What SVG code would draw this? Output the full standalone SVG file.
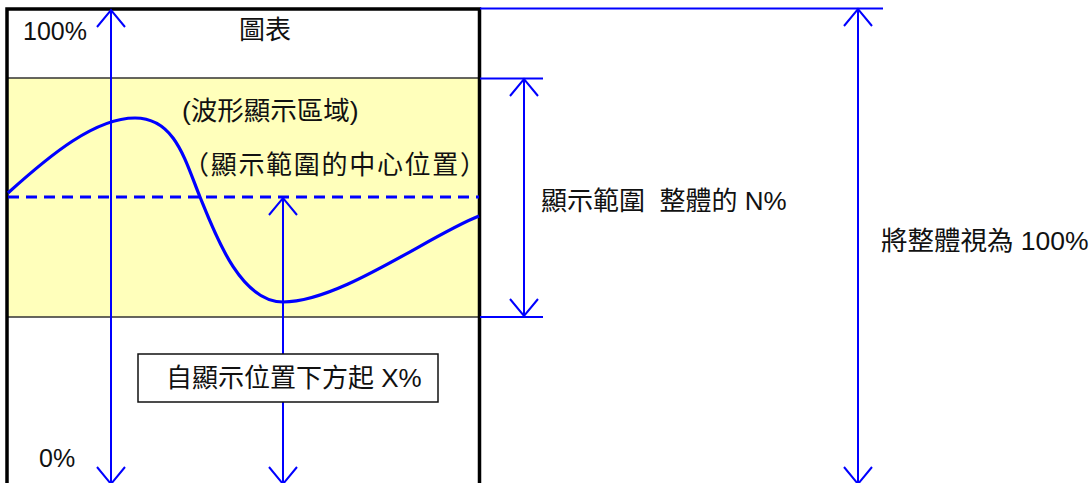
<svg xmlns="http://www.w3.org/2000/svg" width="1092" height="483" viewBox="0 0 1092 483">
<style>
.t{font-family:"Liberation Sans","Noto Sans CJK TC",sans-serif;font-size:25px;fill:#111;white-space:pre}
.big{font-size:26px}
.dim{stroke:#0000FF;stroke-width:2;fill:none}
.thick{stroke:#0000FF;stroke-width:3.2;fill:none}
</style>
<defs>
<marker id="ah" viewBox="-19 -16 22 32" refX="0" refY="0" markerWidth="22" markerHeight="32" markerUnits="userSpaceOnUse" orient="auto-start-reverse">
<path d="M-17,-14 L0,0 L-17,14" fill="none" stroke="#0000FF" stroke-width="2"/>
</marker>
</defs>
<rect width="1092" height="483" fill="#fff"/>
<g id="chart">
<rect x="7" y="78" width="472" height="239" fill="#FFFFBB" stroke="#333" stroke-width="1.5"/>
<path d="M7,490 L7,9 L479.5,9 L479.5,490" fill="none" stroke="#000" stroke-width="3.5"/>
<text class="t" x="23" y="40">100%</text>
<text class="t big" x="239" y="39">圖表</text>
<text class="t" x="39" y="467">0%</text>
</g>
<g id="wave-area">
<text class="t" x="182" y="120" style="font-size:26.5px">(波形顯示區域)</text>
<text class="t big" x="183" y="174" textLength="303" lengthAdjust="spacing">（顯示範圍的中心位置）</text>
<line class="thick" x1="8" y1="197" x2="479" y2="197" stroke-dasharray="11 7"/>
<path class="thick" d="M8,193 C50,155 95,118 135,118 C175,118 185,160 200,197 C215,234 240,302 283,302 C340,302 430,235 479,216"/>
</g>
<g id="connectors">
<line class="dim" x1="111" y1="10" x2="111" y2="484" marker-start="url(#ah)" marker-end="url(#ah)"/>
<line class="dim" x1="283" y1="198" x2="283" y2="484" marker-start="url(#ah)" marker-end="url(#ah)"/>
<line class="dim" x1="480" y1="78.5" x2="543" y2="78.5"/>
<line class="dim" x1="480" y1="317" x2="543" y2="317"/>
<line class="dim" x1="524" y1="79" x2="524" y2="316" marker-start="url(#ah)" marker-end="url(#ah)"/>
<line class="dim" x1="480" y1="8.5" x2="883" y2="8.5"/>
<line class="dim" x1="858" y1="9" x2="858" y2="484" marker-start="url(#ah)" marker-end="url(#ah)"/>
</g>
<g id="label-x">
<rect x="138" y="354" width="300" height="48" fill="#fff" stroke="#111" stroke-width="1.5"/>
<text class="t big" x="166" y="387">自顯示位置下方起 X%</text>
</g>
<g id="label-n">
<text class="t big" x="541" y="210">顯示範圍  整體的 N%</text>
</g>
<g id="label-total">
<text class="t" x="881" y="250" style="font-size:26.5px">將整體視為 100%</text>
</g>
</svg>
